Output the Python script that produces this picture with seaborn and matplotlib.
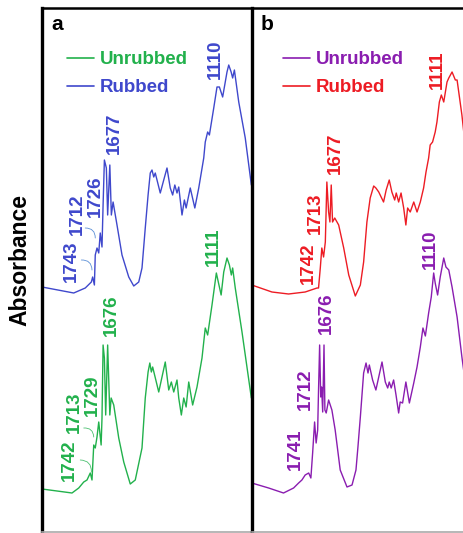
import numpy as np
import pandas as pd
import seaborn as sns
import matplotlib
matplotlib.use("Agg")
import matplotlib.pyplot as plt
from matplotlib.lines import Line2D

# ---------------- data (wavenumber, cm-1 ; absorbance, a.u. with stacking offset) -------------
a_rub_wn = [1967, 1821, 1768, 1740, 1734, 1726, 1722, 1714, 1706, 1699, 1691, 1686, 1680, 1671,
            1665, 1655, 1648, 1640, 1622, 1599, 1568, 1545, 1522, 1507, 1492, 1479, 1469, 1461,
            1453, 1446, 1423, 1407, 1392, 1377, 1366, 1356, 1346, 1338, 1323, 1312, 1304, 1285,
            1264, 1246, 1223, 1216, 1205, 1197, 1177, 1162, 1151, 1136, 1116, 1108, 1097, 1090,
            1082, 1062, 1032, 1004]
a_rub_ab = [2.46, 2.40, 2.45, 2.51, 2.56, 2.48, 2.78, 2.85, 2.80, 3.00, 2.86, 3.28, 3.73, 3.65,
            3.18, 3.68, 3.18, 3.31, 3.08, 2.78, 2.56, 2.47, 2.51, 2.65, 3.05, 3.38, 3.60, 3.63,
            3.56, 3.60, 3.40, 3.53, 3.65, 3.45, 3.38, 3.48, 3.40, 3.46, 3.18, 3.33, 3.25, 3.45,
            3.25, 3.45, 3.75, 3.91, 4.01, 3.98, 4.25, 4.46, 4.46, 4.36, 4.61, 4.68, 4.61, 4.55,
            4.63, 4.31, 3.95, 3.48]

a_unr_wn = [1967, 1829, 1798, 1775, 1760, 1745, 1737, 1729, 1722, 1714, 1706, 1695, 1691, 1686,
            1680, 1674, 1665, 1655, 1649, 1637, 1614, 1591, 1561, 1538, 1507, 1492, 1479, 1471,
            1464, 1458, 1430, 1415, 1400, 1384, 1372, 1361, 1346, 1338, 1326, 1315, 1304, 1292,
            1274, 1254, 1231, 1216, 1205, 1185, 1165, 1143, 1131, 1116, 1105, 1096, 1090, 1078,
            1047, 1004]
a_unr_ab = [0.44, 0.40, 0.45, 0.51, 0.53, 0.60, 0.53, 0.88, 0.85, 0.96, 1.11, 0.88, 1.15, 1.88,
            1.75, 1.18, 1.88, 1.18, 1.35, 1.28, 0.95, 0.71, 0.49, 0.53, 0.85, 1.35, 1.61, 1.70,
            1.61, 1.66, 1.41, 1.56, 1.71, 1.43, 1.51, 1.41, 1.53, 1.35, 1.18, 1.35, 1.26, 1.51,
            1.28, 1.46, 1.75, 2.05, 1.98, 2.28, 2.60, 2.38, 2.61, 2.75, 2.68, 2.58, 2.65, 2.45,
            2.01, 1.35]

b_rub_wn = [2020, 1928, 1852, 1776, 1722, 1715, 1707, 1700, 1692, 1684, 1677, 1669, 1663, 1657,
            1651, 1641, 1623, 1600, 1577, 1547, 1524, 1509, 1494, 1479, 1463, 1453, 1440, 1418,
            1406, 1392, 1380, 1367, 1360, 1349, 1338, 1326, 1316, 1308, 1296, 1280, 1265, 1250,
            1235, 1224, 1212, 1205, 1194, 1182, 1174, 1163, 1154, 1143, 1128, 1120, 1105, 1090,
            1082, 1060, 1046]
b_rub_ab = [2.48, 2.41, 2.39, 2.41, 2.45, 2.45, 2.65, 2.85, 2.76, 2.91, 3.51, 3.21, 3.11, 3.48,
            3.11, 3.15, 3.08, 2.85, 2.58, 2.37, 2.48, 2.71, 3.11, 3.35, 3.47, 3.45, 3.41, 3.31,
            3.43, 3.53, 3.41, 3.33, 3.40, 3.31, 3.40, 3.25, 3.08, 3.25, 3.21, 3.31, 3.21, 3.31,
            3.45, 3.61, 3.75, 3.88, 3.91, 4.01, 4.11, 4.31, 4.38, 4.31, 4.51, 4.55, 4.61, 4.53,
            4.53, 4.18, 3.90]

b_unr_wn = [2020, 1943, 1875, 1829, 1806, 1791, 1776, 1760, 1750, 1742, 1733, 1726, 1719, 1715,
            1710, 1705, 1701, 1696, 1690, 1686, 1680, 1669, 1654, 1639, 1616, 1585, 1562, 1544,
            1535, 1524, 1509, 1498, 1489, 1483, 1468, 1453, 1440, 1425, 1410, 1399, 1392, 1383,
            1372, 1361, 1349, 1342, 1331, 1316, 1300, 1280, 1265, 1250, 1238, 1227, 1212, 1200,
            1189, 1182, 1171, 1159, 1143, 1133, 1120, 1105, 1082, 1060, 1041]
b_unr_ab = [0.50, 0.45, 0.40, 0.45, 0.50, 0.53, 0.58, 0.60, 0.55, 0.80, 1.11, 0.90, 1.03, 1.43,
            1.88, 1.36, 1.46, 1.21, 1.88, 1.23, 1.20, 1.33, 1.23, 1.03, 0.63, 0.46, 0.48, 0.63,
            0.86, 1.16, 1.60, 1.70, 1.60, 1.68, 1.53, 1.43, 1.56, 1.71, 1.51, 1.45, 1.51, 1.45,
            1.53, 1.38, 1.20, 1.31, 1.30, 1.51, 1.30, 1.50, 1.66, 1.86, 2.05, 1.97, 2.20, 2.36,
            2.60, 2.50, 2.38, 2.56, 2.75, 2.66, 2.63, 2.46, 2.16, 1.76, 1.45]

legend_labels = ["Unrubbed", "Rubbed"]
panel_letters = ["a", "b"]

# peak labels: (text, x, y)
a_rub_peaks = [("1743", 1833, 2.72), ("1712", 1806, 3.19), ("1726", 1723, 3.37),
               ("1677", 1636, 4.00), ("1110", 1171, 4.74)]
a_unr_peaks = [("1742", 1843, 0.73), ("1713", 1820, 1.21), ("1729", 1737, 1.38),
               ("1676", 1649, 2.18), ("1111", 1180, 2.86)]
b_rub_peaks = [("1742", 1763, 2.70), ("1713", 1731, 3.20), ("1677", 1640, 3.80),
               ("1111", 1174, 4.63)]
b_unr_peaks = [("1741", 1823, 0.84), ("1712", 1777, 1.44), ("1676", 1677, 2.20),
               ("1110", 1206, 2.84)]

GREEN = "#22B14C"
BLUE = "#3F48CC"
RED = "#ED1C24"
PURPLE = "#8A1DB0"

sns.set_style("white")
plt.rcParams["font.family"] = ["Liberation Sans", "DejaVu Sans"]

W, H = 463, 533
fig = plt.figure(figsize=(W / 100, H / 100), dpi=100)

def fx(px):
    return px / W

def fy(py):
    return 1 - py / H

axA = fig.add_axes([fx(42), fy(532), fx(252) - fx(42), fy(8) - fy(532)])
axB = fig.add_axes([fx(252), fy(532), fx(463) - fx(252), fy(8) - fy(532)])

def draw(ax, wn, ab, color):
    df = pd.DataFrame({"wn": wn, "ab": ab})
    sns.lineplot(data=df, x="wn", y="ab", ax=ax, color=color, lw=1.0,
                 sort=False, estimator=None)

draw(axA, a_rub_wn, a_rub_ab, BLUE)
draw(axA, a_unr_wn, a_unr_ab, GREEN)
draw(axB, b_rub_wn, b_rub_ab, RED)
draw(axB, b_unr_wn, b_unr_ab, PURPLE)

axA.set_xlim(1967, 1001)
axB.set_xlim(2019, 1055)
for ax in (axA, axB):
    ax.set_ylim(0.01, 5.25)
    ax.set_xticks([])
    ax.set_yticks([])
    ax.set_xlabel("")
    ax.set_ylabel("")
    ax.spines["left"].set_linewidth(2.4)
    ax.spines["left"].set_color("black")
    ax.spines["top"].set_linewidth(1.8)
    ax.spines["top"].set_color("black")
    ax.spines["bottom"].set_linewidth(1.2)
    ax.spines["bottom"].set_color("#aaaaaa")
    ax.spines["right"].set_visible(False)

FS = 13.5
for ax, peaks, col in ((axA, a_rub_peaks, BLUE), (axA, a_unr_peaks, GREEN),
                       (axB, b_rub_peaks, RED), (axB, b_unr_peaks, PURPLE)):
    for t, x, y in peaks:
        ax.text(x, y, t, rotation=90, ha="center", va="center", color=col,
                fontsize=FS, fontweight="bold")

# small connector arcs in panel a
for (x0, y0, x1, y1, col) in ((1786, 2.73, 1737, 2.63, "#5b8fd6"),
                               (1768, 3.05, 1722, 2.95, "#5b8fd6"),
                               (1791, 0.73, 1740, 0.61, "#4cc070"),
                               (1775, 1.05, 1729, 0.96, "#4cc070")):
    axA.annotate("", xy=(x1, y1), xytext=(x0, y0),
                 arrowprops=dict(arrowstyle="-", color=col, lw=0.6,
                                 connectionstyle="arc3,rad=-0.5",
                                 shrinkA=0, shrinkB=0))

for ax, cols, xa in ((axA, (GREEN, BLUE), 0.12), (axB, (PURPLE, RED), 0.145)):
    handles = [Line2D([0], [0], color=c, lw=1.2) for c in cols]
    ax.legend(handles, legend_labels, loc="upper left", bbox_to_anchor=(xa, 0.918),
              frameon=False, prop=dict(weight="bold", size=FS), labelcolor="linecolor",
              handlelength=1.45, handletextpad=0.3, labelspacing=0.58,
              borderaxespad=0, borderpad=0)

axA.text(0.045, 0.987, panel_letters[0], transform=axA.transAxes, ha="left", va="top",
         fontsize=15, fontweight="bold", color="black")
axB.text(0.04, 0.987, panel_letters[1], transform=axB.transAxes, ha="left", va="top",
         fontsize=15, fontweight="bold", color="black")

fig.text(fx(20), fy(260), "Absorbance", rotation=90, ha="center", va="center",
         fontsize=16.5, fontweight="bold", color="black")

fig.savefig("out.png", dpi=100)
